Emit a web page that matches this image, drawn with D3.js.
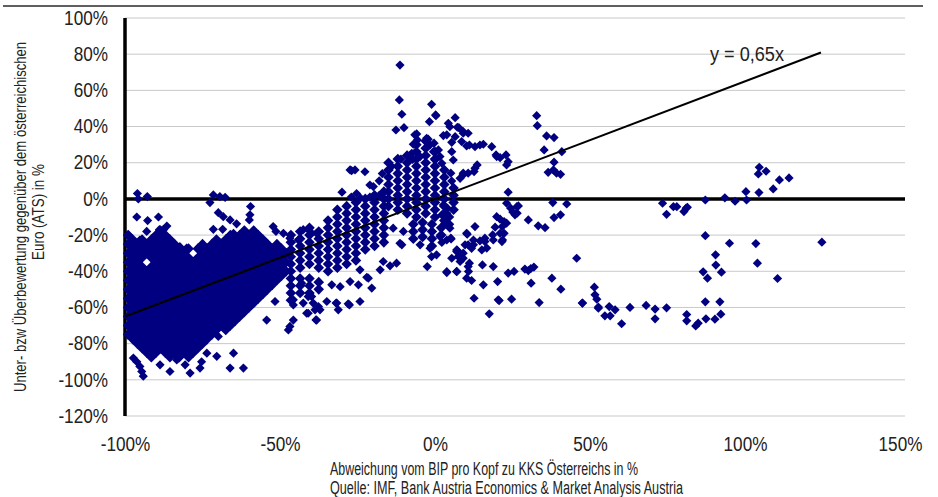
<!DOCTYPE html>
<html>
<head>
<meta charset="utf-8">
<script src="https://cdn.jsdelivr.net/npm/d3@7"></script>
<style>
  body { margin: 0; background: #fff; }
  text { font-family: "Liberation Sans", Arial, sans-serif; fill: #222; }
</style>
</head>
<body>
<div id="chart"></div>
<script>
var xTicks = [-100, -50, 0, 50, 100, 150];
var yTicks = [-120, -100, -80, -60, -40, -20, 0, 20, 40, 60, 80, 100];
var trendSlope = 0.65;
var trendRange = [-100, 124.5];
var trendLabel = 'y = 0,65x';

// dense low-income cloud, one row per valuation level: [y, x, x, ...]
var coreRows = [
    [-17.5, -88.5, -61.5, -58.5],
    [-20, -99, -90, -87, -66, -63, -60, -57],
    [-22.5, -97.5, -94.5, -91.5, -88.5, -85.5, -70.5, -67.5, -64.5, -61.5, -58.5, -55.5],
    [-25, -99, -96, -93, -90, -87, -84, -75, -72, -69, -66, -63, -60, -57, -54, -51],
    [-27.5, -97.5, -94.5, -91.5, -88.5, -85.5, -82.5, -79.5, -76.5, -73.5, -70.5, -67.5, -64.5, -61.5, -58.5, -55.5, -52.5, -49.5],
    [-30, -99, -96, -93, -90, -87, -84, -81, -75, -72, -69, -66, -63, -60, -57, -54, -51, -48],
    [-32.5, -97.5, -94.5, -91.5, -88.5, -85.5, -82.5, -79.5, -76.5, -73.5, -70.5, -67.5, -64.5, -61.5, -58.5, -55.5, -52.5, -49.5],
    [-35, -99, -96, -90, -87, -84, -81, -78, -75, -72, -69, -66, -63, -60, -57, -54, -51, -48],
    [-37.5, -97.5, -94.5, -91.5, -88.5, -85.5, -82.5, -79.5, -76.5, -73.5, -70.5, -67.5, -64.5, -61.5, -58.5, -55.5, -52.5, -49.5],
    [-40, -99, -96, -93, -90, -87, -84, -81, -78, -75, -72, -69, -66, -63, -60, -57, -54, -51, -48],
    [-42.5, -97.5, -94.5, -91.5, -88.5, -85.5, -82.5, -79.5, -76.5, -73.5, -70.5, -67.5, -64.5, -61.5, -58.5, -55.5, -52.5, -49.5],
    [-45, -99, -96, -93, -90, -87, -84, -81, -78, -75, -72, -69, -66, -63, -60, -57, -54, -51],
    [-47.5, -97.5, -94.5, -91.5, -88.5, -85.5, -82.5, -79.5, -76.5, -73.5, -70.5, -67.5, -64.5, -61.5, -58.5, -55.5, -52.5],
    [-50, -99, -96, -93, -90, -87, -84, -81, -78, -75, -72, -69, -66, -63, -60, -57, -54],
    [-52.5, -97.5, -94.5, -91.5, -88.5, -85.5, -82.5, -79.5, -76.5, -73.5, -70.5, -67.5, -64.5, -61.5, -58.5, -55.5],
    [-55, -99, -96, -93, -90, -87, -84, -81, -78, -75, -72, -69, -66, -63, -60, -57],
    [-57.5, -97.5, -94.5, -91.5, -88.5, -85.5, -82.5, -79.5, -76.5, -73.5, -70.5, -67.5, -64.5, -61.5, -58.5],
    [-60, -99, -96, -93, -90, -87, -84, -81, -78, -75, -72, -69, -66, -63, -60],
    [-62.5, -97.5, -94.5, -91.5, -88.5, -85.5, -82.5, -79.5, -76.5, -73.5, -70.5, -67.5, -64.5, -61.5],
    [-65, -99, -96, -93, -90, -87, -84, -81, -78, -75, -72, -69, -66, -63],
    [-67.5, -97.5, -94.5, -91.5, -88.5, -85.5, -82.5, -79.5, -76.5, -73.5, -70.5, -67.5, -64.5],
    [-70, -99, -96, -93, -90, -87, -84, -81, -78, -75, -72, -69, -66],
    [-72.5, -97.5, -94.5, -91.5, -88.5, -85.5, -82.5, -79.5, -76.5, -73.5, -70.5, -67.5],
    [-75, -99, -96, -93, -90, -87, -84, -81, -78, -75, -72],
    [-77.5, -97.5, -94.5, -91.5, -88.5, -85.5, -82.5, -79.5, -76.5, -73.5],
    [-80, -96, -93, -90, -87, -84, -81, -78, -75],
    [-82.5, -94.5, -91.5, -88.5, -85.5, -82.5, -79.5, -76.5],
    [-85, -93, -90, -87, -84, -81, -78],
    [-87.5, -91.5, -85.5, -82.5, -79.5]
];

// rising band towards the middle: [x, y, y, ...]
var bandCols = [
    [-46.5, -20, -24, -28, -32, -36, -40, -44, -48, -52, -56],
    [-43.5, -18, -22, -26, -30, -34, -38, -44, -48, -52],
    [-40.5, -16, -20, -24, -28, -32, -36, -44, -48, -52],
    [-37.5, -18, -22, -26, -30, -34, -38, -46, -50],
    [-34.5, -12, -16, -20, -24, -28, -32, -36, -40],
    [-31.5, -6, -10, -14, -18, -22, -26, -30, -34, -38],
    [-28.5, -4, -8, -12, -16, -20, -24, -28, -32, -36],
    [-25.5, -2, -6, -10, -14, -18, -22, -26, -30, -34],
    [-22.5, 0, -4, -8, -12, -16, -20, -24, -28],
    [-19.5, 2, -2, -6, -10, -14, -18, -22, -26],
    [-16.5, 4, 0, -4, -8, -12, -16, -20, -24]
];

// cluster around Austria's own level: [x, y, y, ...]
var clusterCols = [
    [-15, -4, 0, 4, 8, 12, 16, 20],
    [-12, -6, -2, 2, 6, 10, 14, 18, 22],
    [-9, -8, -4, 0, 4, 8, 12, 16, 20, 24],
    [-6, -10, -6, -2, 2, 6, 10, 14, 18, 22, 26, 30],
    [-3, -8, -4, 0, 4, 8, 12, 16, 20, 24, 28, 32],
    [0, -10, -6, -2, 2, 6, 10, 14, 18, 22, 26],
    [3, -12, -8, -4, 0, 4, 8, 12, 16],
    [6, -6, -2, 2, 6],
    [-7, -14, -18, -22],
    [-4, -13, -17, -21],
    [-1, -14, -18, -22, -26],
    [2, -16, -20],
    [4.5, -10, -14]
];

// loose points: [x, y]
var scatterPts = [
    [-96, 3], [-95.7, 0], [-92.8, 1.3], [-72.6, -2], [-71.5, 2.2], [-69.4, 1.3], [-67.7, 0.9],
    [-96.2, -10], [-92.7, -12], [-89.2, -10], [-86.5, -15], [-87.6, -17],
    [-69.9, -7.6], [-68.3, -9.8], [-66.1, -11.6], [-64, -13.8], [-71.5, -16.8], [-68.5, -16.8], [-65, -19],
    [-59.5, -4.2], [-59.7, -8.8], [-59.9, -11.6],
    [-52.2, -15.3], [-48.9, -19], [-46.8, -21.7], [-44.1, -22.7], [-42.5, -17], [-40.3, -18], [-38.2, -19],
    [-98.9, -20], [-95.2, -22.7], [-93, -18], [-88.9, -17], [-82.3, -26.4], [-80.1, -27.2],
    [-54.3, -25.4], [-51.1, -26.4], [-51.3, -18],
    [-96.2, -90], [-94.6, -95.4], [-94.1, -98], [-88.7, -91.7], [-85.5, -95.4], [-83.3, -89], [-80.6, -91.7],
    [-79, -96.3], [-75.8, -93.5], [-75.3, -90], [-73.6, -85.3], [-70.4, -87], [-69.9, -76], [-65, -85.3],
    [-66.1, -93.5], [-61.8, -93.5], [-97.3, -88], [-95.2, -92.6],
    [-54.3, -67], [-51.6, -56.7], [-47.3, -72.4], [-45.7, -67], [-45.7, -55.8], [-43, -46.6], [-41.4, -63.2],
    [-38.7, -61.3], [-39.8, -54], [-46.8, -70.5], [-38.2, -67], [-40.9, -63.2], [-37.1, -61.3], [-31.2, -61.3],
    [-34.9, -56.7], [-31.9, -57.6], [-28, -58], [-24.2, -56.7], [-20.4, -49.3], [-22, -43.3], [-17.7, -39.2],
    [-14.5, -37], [-12.4, -35.5], [-16.7, -34.6], [-10.7, -25.4], [-33.3, -47.5], [-30.6, -48.5], [-27.4, -45.7],
    [-24.7, -47.5], [-45.7, -58.6], [-42.5, -57.6], [-40.9, -54], [-38.4, -66.9], [-37.6, -59.5], [-39.3, -57.6],
    [-31.7, -57.6], [-27.6, -58.6], [-24.2, -39.2], [-21.5, -43.8],
    [-27.4, 16], [-25.8, 16], [-22.6, 15], [-21, 7.7], [-30, 3.7], [-25.3, 3], [-26.9, 15.6], [-19.9, 6.8],
    [-27, 1], [-24, 0.5], [-21, 1], [-18, 2], [-18, 10], [-17, 14], [-14, 18], [-11, 22], [-8, 24],
    [-11.3, 74], [-11.5, 54.7], [-10.7, 46.8], [-10, 39.4], [-12.6, 38.1],
    [-1.1, 52.3], [0.2, 46.4], [-1.8, 42.7], [6.5, 44.9], [4.3, 41.8], [4.8, 39.9], [3.8, 35.4], [2.7, 35],
    [7.7, 39.4], [9.1, 36.3], [8.6, 31.7], [6.5, 34.4], [5.4, 31.3],
    [-6.5, 35.4], [-5.7, 32.6], [-7, 30.2], [-2.7, 33.5], [-1.6, 29.8], [-0.5, 26.1], [1.1, 27.1], [1.6, 23.4],
    [0, 21.5], [2.2, 19.7], [5.4, 26.1], [5.9, 21.5], [5.1, 14.2], [5.4, 9.9], [9.1, 14.2], [8.1, 11.4],
    [12.9, 17], [13.6, 18.8], [12.6, 15.1], [11.1, 29.8], [12.9, 28.9], [14.5, 29.8], [15.6, 30.2], [18.3, 28.9],
    [19.7, 24.3], [21, 22.8], [22.9, 24.3], [23.1, 18.8], [23.6, 20.6], [19.9, 23.4],
    [-5.9, 35.9], [-2.2, 33], [-0.3, 30.8], [-7.5, 25.2], [-7.2, 21.9], [-4.8, 23.4], [10.2, 29.3],
    [10.7, 36.3], [9.1, 37.2], [7.2, 39.6], [10.7, 14.2], [9.1, 13.3], [0.3, 46],
    [32.8, 46], [33, 40.5], [36, 34.8], [38.4, 33.9], [35.2, 27.1], [40.9, 26.1], [38.4, 20.3], [38.2, 16],
    [36.5, 14.7], [39.2, 14.2], [40.5, 13.6],
    [23.6, 3.7], [23.1, -2.4], [24.4, -5.1], [26.4, -4.3], [25.8, -8.8], [25.1, -7.3], [26.9, -3.9], [26.5, -7.9],
    [38, -2], [42.5, -2.8], [38.4, -10.3], [40.5, -8.8], [30.1, -11.6], [33.3, -14.9], [35.5, -15.9],
    [19.9, -9.8], [21, -11.2], [22.3, -12.5], [23.1, -13.4], [21.7, -15.3], [19.4, -15.6], [18.6, -19.9],
    [22.3, -19], [21.6, -23.6], [21.8, -22.7], [16.1, -21.7], [14.5, -23.2],
    [5.1, -21.7], [10.4, -19.5], [12.9, -15.3], [10.2, -19], [5.2, -22.1], [2.2, -24.1],
    [2.7, -3.3], [3.8, -7.9], [3.2, -13.4], [4.3, -14.4], [2.2, -8.8], [4, -5.1],
    [16.1, -23.6], [15.1, -28.2], [12.4, -25.4], [11.8, -27.3], [9.7, -25.4], [7.2, -28.5], [5.4, -32.8],
    [8.1, -34.6], [9.1, -32.8], [11.1, -35.5], [10.8, -40.1], [10.2, -43.8], [11.8, -45.1], [7, -40.1], [3.8, -40.7],
    [15.3, -36.5], [18.8, -37.4], [15.6, -47.5], [20.2, -45.7], [12.6, -54.9], [20.7, -56.2], [17.5, -63.5],
    [24.7, -55.4], [23.6, -41], [25.5, -40.1], [29, -38.8], [30.1, -39.6], [30.9, -38.5], [31.9, -37.7],
    [31, -46.6], [33.6, -57.3], [37.7, -43.8], [40.6, -49.9], [45.7, -32.8], [47.5, -57.6],
    [12.4, -22.7], [7, -29.1], [9.1, -30], [16.7, -27.2], [18.8, -22.7], [21, -19], [20.4, -55.8],
    [-11.3, -24.5], [-13.5, -16.2], [-10.2, -18], [-4.8, -25.4], [-1.6, -27.3], [-1.1, -31.9], [0.5, -30.9],
    [-2.5, -37.4], [1.6, -20.8], [3.8, -22.7], [4.8, -16.2], [7, -28.2], [10.7, -25.4], [7.5, -31.9],
    [3.8, -40.2], [7, -40.2], [10.7, -37.4],
    [51.4, -48.8], [51.6, -53], [52.2, -55.4], [52.7, -60.4], [54.8, -64.6], [56.2, -59.5], [56.5, -64.6],
    [58.1, -61.3], [60.2, -69], [62.9, -60], [68.1, -58.9], [71, -60.9], [71, -66.3], [74.7, -60.2],
    [81.2, -63.9], [81.2, -67.4], [84.1, -70.2], [84.9, -68.7], [87.2, -56.9], [87.4, -66.3], [90.3, -66.5],
    [92.2, -63.7], [91.9, -56.9], [47.6, -57.6], [52.7, -59.8],
    [73.4, -2.4], [74.7, -8.5], [76.9, -4.3], [78, -4.3], [80.3, -7], [81, -5.1], [81.4, -4.6],
    [87.2, -0.6], [93.5, 0.6], [96.8, -1.3], [100.5, -0.6], [100.3, 4], [104.5, 3.5], [109.1, 5.5],
    [111.1, 10.5], [114.2, 11.6], [104.3, 13.8], [104.6, 17.5], [106.8, 15.3],
    [87.2, -20.3], [95, -24.5], [103.5, -24.7], [124.8, -23.9], [90.5, -30.9], [104, -35.5], [90.6, -36.6],
    [86.5, -40.3], [92.4, -40.5], [87.9, -43.8], [110.5, -44]
];

// the three dense groups overlap a little more so the cloud reads as solid
var densePts = [];
coreRows.forEach(r => r.slice(1).forEach(x => densePts.push([x, r[0]])));
bandCols.forEach(c => c.slice(1).forEach(y => densePts.push([c[0], y])));
clusterCols.forEach(c => c.slice(1).forEach(y => densePts.push([c[0], y])));

var width = 938;
var height = 497;
var plotLeft = 125;
var plotRight = 900;
var plotTop = 18;
var plotBottom = 416;
var gridEnd = 905;

var svg = d3.select('#chart').append('svg')
    .attr('width', width)
    .attr('height', height);

var xScale = d3.scaleLinear().domain([-100, 150]).range([plotLeft, plotRight]);
var yScale = d3.scaleLinear().domain([-120, 100]).range([plotBottom, plotTop]);

// squeeze Arial-like glyphs to look like the narrow chart font
function narrow(sel, k) {
    sel.each(function () {
        var len = this.getComputedTextLength();
        d3.select(this).attr('textLength', len * k).attr('lengthAdjust', 'spacingAndGlyphs');
    });
}

function diamond(h) {
    return `M0,${-h}L${h},0L0,${h}L${-h},0Z`;
}

// frame line at the very top
svg.append('line')
    .attr('x1', 3).attr('x2', 923)
    .attr('y1', 6).attr('y2', 6)
    .attr('stroke', '#5f5f5f')
    .attr('stroke-width', 2);

// gridlines
svg.append('g').selectAll('line')
    .data(yTicks)
    .enter()
    .append('line')
    .attr('x1', plotLeft).attr('x2', gridEnd)
    .attr('y1', d => yScale(d)).attr('y2', d => yScale(d))
    .attr('stroke', '#c9c9c9')
    .attr('stroke-width', 1);

var yAxis = d3.axisLeft(yScale).tickValues(yTicks).tickSize(0).tickPadding(17).tickFormat(d => d + '%');
var xAxis = d3.axisBottom(xScale).tickValues(xTicks).tickSize(0).tickPadding(21).tickFormat(d => d + '%');

svg.append('g')
    .attr('transform', `translate(${plotLeft},0)`)
    .call(yAxis)
    .call(g => g.select('.domain').remove())
    .selectAll('text')
    .attr('font-family', '"Liberation Sans", Arial, sans-serif')
    .attr('font-size', 19.5)
    .attr('fill', '#222')
    .call(narrow, 0.88);

svg.append('g')
    .attr('transform', `translate(0,${plotBottom})`)
    .call(xAxis)
    .call(g => g.select('.domain').remove())
    .selectAll('text')
    .attr('font-family', '"Liberation Sans", Arial, sans-serif')
    .attr('font-size', 19.5)
    .attr('fill', '#222')
    .call(narrow, 0.88);

// zero line and value axis
svg.append('line')
    .attr('x1', plotLeft).attr('x2', gridEnd)
    .attr('y1', yScale(0)).attr('y2', yScale(0))
    .attr('stroke', '#000')
    .attr('stroke-width', 3.5);

svg.append('line')
    .attr('x1', xScale(-100)).attr('x2', xScale(-100))
    .attr('y1', yScale(100)).attr('y2', yScale(-120))
    .attr('stroke', '#000')
    .attr('stroke-width', 3.5);

// markers
svg.append('g').selectAll('path')
    .data(densePts)
    .enter()
    .append('path')
    .attr('d', diamond(5.3))
    .attr('transform', d => `translate(${xScale(d[0])},${yScale(d[1])})`)
    .attr('fill', '#000080');

svg.append('g').selectAll('path')
    .data(scatterPts)
    .enter()
    .append('path')
    .attr('d', diamond(4.6))
    .attr('transform', d => `translate(${xScale(d[0])},${yScale(d[1])})`)
    .attr('fill', '#000080');

// linear trend
svg.append('line')
    .attr('x1', xScale(trendRange[0])).attr('y1', yScale(trendRange[0] * trendSlope))
    .attr('x2', xScale(trendRange[1])).attr('y2', yScale(trendRange[1] * trendSlope))
    .attr('stroke', '#000')
    .attr('stroke-width', 2);

svg.append('text')
    .text(trendLabel)
    .attr('x', 710)
    .attr('y', 61)
    .attr('font-size', 19.5)
    .attr('textLength', 74)
    .attr('lengthAdjust', 'spacingAndGlyphs');

// titles
svg.append('text')
    .text('Unter- bzw Überbewertung gegenüber dem österreichischen')
    .attr('transform', 'translate(26,217) rotate(-90)')
    .attr('text-anchor', 'middle')
    .attr('font-size', 17)
    .attr('textLength', 350)
    .attr('lengthAdjust', 'spacingAndGlyphs');

svg.append('text')
    .text('Euro (ATS) in %')
    .attr('transform', 'translate(44,212) rotate(-90)')
    .attr('text-anchor', 'middle')
    .attr('font-size', 17)
    .attr('textLength', 96)
    .attr('lengthAdjust', 'spacingAndGlyphs');

svg.append('text')
    .text('Abweichung vom BIP pro Kopf zu KKS Österreichs in %')
    .attr('x', 330)
    .attr('y', 475)
    .attr('font-size', 18)
    .attr('textLength', 308)
    .attr('lengthAdjust', 'spacingAndGlyphs');

svg.append('text')
    .text('Quelle: IMF, Bank Austria Economics & Market Analysis Austria')
    .attr('x', 330)
    .attr('y', 494)
    .attr('font-size', 18)
    .attr('textLength', 353)
    .attr('lengthAdjust', 'spacingAndGlyphs');
</script>
</body>
</html>
